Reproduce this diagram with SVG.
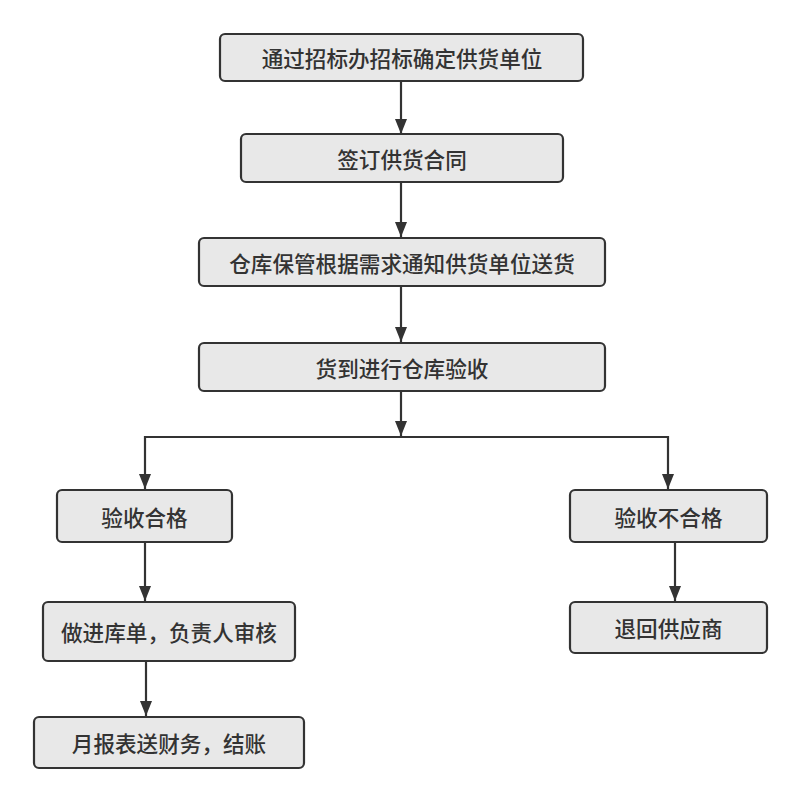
<svg xmlns="http://www.w3.org/2000/svg" width="800" height="801" viewBox="0 0 800 801">
<style>
.box{fill:#e8e8e8;stroke:#333;stroke-width:2.2}
.t{font-family:"Noto Sans CJK SC","Noto Sans",sans-serif;font-size:21.6px;font-weight:500;fill:#333;text-anchor:middle;dominant-baseline:central}
.c{fill:none;stroke:#333;stroke-width:2.2}
.a{fill:#333}
</style>
<rect width="800" height="801" fill="#fff"/>
<g id="connectors">
<path class="c" d="M401,81 V135"/>
<path class="c" d="M401,182 V238"/>
<path class="c" d="M401,286 V343"/>
<path class="c" d="M401,391 V436"/>
<path class="c" d="M145,489 V437 H668 V489"/>
<path class="c" d="M145,542 V602"/>
<path class="c" d="M146,661 V717"/>
<path class="c" d="M675,542 V602"/>
<path class="a" d="M395,119 L407,119 L401,134 Z"/>
<path class="a" d="M395,222 L407,222 L401,237 Z"/>
<path class="a" d="M395,327 L407,327 L401,342 Z"/>
<path class="a" d="M395,421 L407,421 L401,436 Z"/>
<path class="a" d="M139,474 L151,474 L145,489 Z"/>
<path class="a" d="M662,474 L674,474 L668,489 Z"/>
<path class="a" d="M139,586 L151,586 L145,601 Z"/>
<path class="a" d="M140,701 L152,701 L146,716 Z"/>
<path class="a" d="M669,586 L681,586 L675,601 Z"/>
</g>
<g id="n1"><rect class="box" x="220" y="34" width="363" height="47" rx="5"/><text class="t" x="402" y="57.5">通过招标办招标确定供货单位</text></g>
<g id="n2"><rect class="box" x="241" y="134" width="322" height="48" rx="5"/><text class="t" x="402" y="158">签订供货合同</text></g>
<g id="n3"><rect class="box" x="199" y="238" width="406" height="48" rx="5"/><text class="t" x="402" y="262">仓库保管根据需求通知供货单位送货</text></g>
<g id="n4"><rect class="box" x="199" y="343" width="406" height="48" rx="5"/><text class="t" x="402" y="367">货到进行仓库验收</text></g>
<g id="n5"><rect class="box" x="57" y="490" width="175" height="52" rx="5"/><text class="t" x="144.5" y="516">验收合格</text></g>
<g id="n6"><rect class="box" x="43" y="602" width="252" height="59" rx="5"/><text class="t" x="169" y="631.5">做进库单，负责人审核</text></g>
<g id="n7"><rect class="box" x="34" y="717" width="270" height="51" rx="5"/><text class="t" x="169" y="742.5">月报表送财务，结账</text></g>
<g id="n8"><rect class="box" x="570" y="490" width="197" height="52" rx="5"/><text class="t" x="668.5" y="516">验收不合格</text></g>
<g id="n9"><rect class="box" x="570" y="602" width="197" height="51" rx="5"/><text class="t" x="668.5" y="627.5">退回供应商</text></g>
</svg>
